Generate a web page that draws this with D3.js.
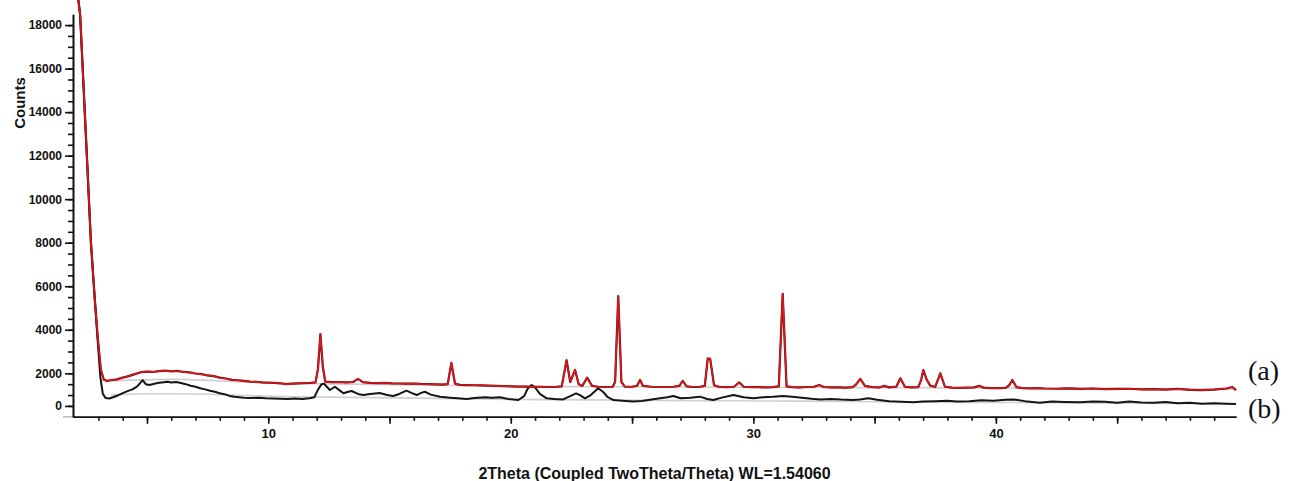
<!DOCTYPE html>
<html>
<head>
    <title>XRD pattern</title>
    <script src="https://d3js.org/d3.v7.min.js"></script>
    <style>
        body {
            margin: 0;
            background-color: #fff;
            font-family: "Liberation Sans", Arial, sans-serif;
        }
        .axis path, .axis line {
            stroke: #111;
            stroke-width: 1.6px;
        }
        .axis text {
            font-family: "Liberation Sans", Arial, sans-serif;
            font-weight: bold;
            fill: #111;
        }
        .trace {
            fill: none;
            stroke-linejoin: round;
        }
    </style>
</head>
<body>
    <div id="chart"></div>
    <script>
        // 2theta / counts pairs
        const seriesA = [
            [2.10, 19800], [2.245, 18465], [2.52, 12026], [2.69, 7990], [2.85, 5370], [2.98, 3530],
            [3.10, 2150], [3.22, 1700], [3.35, 1650], [3.5, 1680], [3.75, 1720], [4.0, 1800],
            [4.25, 1870], [4.5, 1960], [4.75, 2050], [5.0, 2080], [5.25, 2060], [5.5, 2100],
            [5.75, 2120], [6.0, 2090], [6.25, 2110], [6.5, 2060], [6.75, 2040], [7.0, 1990],
            [7.25, 1960], [7.5, 1900], [7.75, 1870], [8.0, 1800], [8.25, 1760], [8.5, 1700],
            [8.75, 1680], [9.0, 1650], [9.25, 1620], [9.5, 1610], [9.75, 1580], [10.0, 1570],
            [10.25, 1560], [10.5, 1540], [10.75, 1500], [11.0, 1520], [11.25, 1540], [11.5, 1550],
            [11.75, 1560], [11.95, 1580], [12.05, 2200], [12.15, 3800], [12.25, 2300], [12.35, 1620],
            [12.6, 1590], [12.9, 1600], [13.2, 1580], [13.5, 1600], [13.7, 1740], [13.9, 1590],
            [14.2, 1560], [14.5, 1550], [14.8, 1560], [15.1, 1540], [15.4, 1530], [15.7, 1520],
            [16.0, 1530], [16.3, 1510], [16.6, 1500], [16.9, 1490], [17.2, 1480], [17.4, 1500],
            [17.55, 2480], [17.7, 1520], [17.9, 1470], [18.2, 1460], [18.5, 1450], [18.8, 1440],
            [19.1, 1430], [19.4, 1420], [19.7, 1410], [20.0, 1400], [20.3, 1390], [20.6, 1390],
            [20.9, 1380], [21.2, 1380], [21.5, 1370], [21.8, 1370], [22.1, 1400], [22.3, 2600],
            [22.45, 1600], [22.65, 2150], [22.8, 1500], [22.95, 1420], [23.15, 1800], [23.35, 1420],
            [23.6, 1380], [23.9, 1370], [24.2, 1380], [24.3, 1600], [24.43, 5550], [24.56, 1600],
            [24.7, 1390], [25.0, 1380], [25.2, 1420], [25.33, 1690], [25.45, 1420], [25.8, 1380],
            [26.1, 1370], [26.4, 1370], [26.7, 1380], [26.95, 1420], [27.09, 1650], [27.25, 1400],
            [27.5, 1370], [27.8, 1380], [28.0, 1420], [28.12, 2680], [28.22, 2660], [28.38, 1450],
            [28.6, 1370], [28.9, 1360], [29.2, 1380], [29.42, 1580], [29.6, 1380], [29.9, 1360],
            [30.2, 1360], [30.5, 1350], [30.8, 1360], [31.05, 1400], [31.21, 5650], [31.37, 1400],
            [31.6, 1360], [31.9, 1350], [32.2, 1370], [32.5, 1380], [32.72, 1460], [32.9, 1370],
            [33.2, 1350], [33.5, 1350], [33.8, 1340], [34.1, 1360], [34.25, 1500], [34.41, 1740],
            [34.6, 1420], [34.9, 1360], [35.2, 1350], [35.39, 1420], [35.6, 1350], [35.9, 1390],
            [36.06, 1770], [36.25, 1380], [36.5, 1350], [36.8, 1360], [36.92, 1700], [37.01, 2150],
            [37.15, 1700], [37.3, 1420], [37.5, 1380], [37.71, 2000], [37.9, 1380], [38.2, 1340],
            [38.5, 1330], [38.8, 1340], [39.1, 1350], [39.32, 1420], [39.5, 1340], [39.8, 1320],
            [40.1, 1320], [40.4, 1330], [40.55, 1450], [40.68, 1690], [40.85, 1360], [41.1, 1320],
            [41.4, 1310], [41.7, 1320], [42.0, 1300], [42.5, 1290], [43.0, 1310], [43.5, 1280],
            [44.0, 1300], [44.5, 1270], [45.0, 1280], [45.5, 1290], [46.0, 1260], [46.5, 1270],
            [47.0, 1250], [47.5, 1280], [48.0, 1240], [48.5, 1230], [49.0, 1250], [49.3, 1280],
            [49.5, 1300], [49.75, 1370], [49.9, 1230]
        ];

        const seriesB = [
            [2.10, 19800], [2.245, 18465], [2.52, 12026], [2.69, 7990], [2.85, 5370], [2.98, 3300],
            [3.08, 1800], [3.18, 1050], [3.3, 860], [3.45, 840], [3.6, 900], [3.8, 980],
            [4.0, 1090], [4.2, 1180], [4.4, 1260], [4.6, 1400], [4.82, 1690], [4.95, 1500],
            [5.1, 1460], [5.3, 1520], [5.5, 1560], [5.7, 1590], [5.85, 1610], [6.0, 1580],
            [6.2, 1600], [6.4, 1550], [6.6, 1500], [6.8, 1430], [7.0, 1380], [7.2, 1310],
            [7.4, 1260], [7.6, 1200], [7.8, 1150], [8.0, 1080], [8.2, 1040], [8.4, 960],
            [8.6, 920], [8.8, 900], [9.0, 880], [9.3, 860], [9.6, 880], [9.9, 850],
            [10.2, 840], [10.5, 830], [10.8, 820], [11.1, 840], [11.4, 820], [11.7, 850],
            [11.9, 900], [12.05, 1250], [12.2, 1500], [12.3, 1520], [12.54, 1230], [12.75, 1380],
            [12.9, 1250], [13.1, 1080], [13.3, 1150], [13.44, 1185], [13.7, 1050], [13.92, 1000],
            [14.2, 1050], [14.6, 1090], [14.9, 1000], [15.15, 955], [15.4, 1050], [15.7, 1200],
            [15.9, 1100], [16.12, 1000], [16.3, 1100], [16.46, 1150], [16.7, 1020], [17.08, 925],
            [17.5, 880], [17.8, 850], [18.18, 820], [18.5, 860], [18.94, 900], [19.2, 870],
            [19.55, 900], [19.9, 820], [20.31, 770], [20.55, 950], [20.7, 1300], [20.86, 1460],
            [21.0, 1350], [21.2, 1050], [21.48, 850], [21.8, 820], [22.16, 800], [22.45, 950],
            [22.69, 1080], [22.85, 1000], [23.06, 850], [23.3, 1000], [23.6, 1310], [23.8, 1150],
            [24.0, 900], [24.23, 770], [24.6, 740], [25.05, 700], [25.4, 730], [25.8, 800],
            [26.15, 850], [26.45, 900], [26.7, 955], [27.0, 850], [27.4, 880], [27.8, 925],
            [28.1, 820], [28.35, 770], [28.7, 880], [29.18, 1000], [29.6, 900], [30.0, 850],
            [30.4, 900], [30.8, 920], [31.24, 955], [31.6, 920], [32.0, 880], [32.4, 830],
            [32.76, 800], [33.2, 820], [33.6, 790], [34.1, 770], [34.4, 800], [34.74, 850],
            [35.1, 780], [35.6, 720], [36.1, 690], [36.6, 665], [37.0, 700], [37.5, 720],
            [37.98, 740], [38.4, 700], [38.9, 720], [39.4, 760], [39.9, 740], [40.4, 780],
            [40.72, 800], [41.2, 720], [41.82, 650], [42.3, 700], [42.8, 680], [43.47, 665],
            [44.0, 700], [44.5, 690], [45.0, 650], [45.5, 700], [46.0, 660], [46.5, 640],
            [47.0, 680], [47.5, 620], [48.0, 650], [48.5, 600], [49.0, 620], [49.5, 600],
            [49.9, 590]
        ];

        // faint fitted backgrounds under each trace
        const backgroundA = [[3.5, 1650], [6, 1720], [10, 1550], [15, 1480], [20, 1400], [25, 1380],
            [30, 1360], [35, 1340], [40, 1320], [49.9, 1270]];
        const backgroundB = [[3.5, 1000], [5, 1060], [7, 1050], [9, 980], [11, 920], [13, 900],
            [16, 860], [20, 800], [24, 770], [28, 740], [32, 720], [36, 680], [40, 660],
            [45, 630], [49.9, 600]];

        const yTickValues = [500, 2000, 4000, 6000, 8000, 10000, 12000, 14000, 16000, 18000];
        const yTickLabels = ["0", "2000", "4000", "6000", "8000", "10000", "12000", "14000", "16000", "18000"];
        const seriesLabels = ["(a)", "(b)"];

        const width = 1289;
        const height = 481;
        const plot = { left: 73, right: 1236, top: 14.2, bottom: 416.8 };

        const svg = d3.select("#chart")
            .append("svg")
            .attr("width", width)
            .attr("height", height);

        const x = d3.scaleLinear().domain([1.95, 49.9]).range([plot.left, plot.right]);
        const y = d3.scaleLinear().domain([0, 18500]).range([plot.bottom, plot.top]);

        const line = d3.line()
            .x(d => x(d[0]))
            .y(d => y(d[1]));

        // backgrounds first, traces on top
        [backgroundA, backgroundB].forEach(bg => {
            svg.append("path")
                .datum(bg)
                .attr("class", "trace")
                .attr("stroke", "#cfcfcf")
                .attr("stroke-width", 1.6)
                .attr("d", line.curve(d3.curveMonotoneX));
        });
        line.curve(d3.curveLinear);

        svg.append("path")
            .datum(seriesB)
            .attr("class", "trace")
            .attr("stroke", "#151515")
            .attr("stroke-width", 2)
            .attr("d", line);

        svg.append("path")
            .datum(seriesA)
            .attr("class", "trace")
            .attr("stroke", "#6a0a0a")
            .attr("stroke-width", 2.2)
            .attr("d", line);
        svg.append("path")
            .datum(seriesA)
            .attr("class", "trace")
            .attr("stroke", "#d8181c")
            .attr("stroke-width", 1.5)
            .attr("d", line);

        // short gray stub of the baseline left of the y axis
        svg.append("line")
            .attr("x1", plot.left - 10)
            .attr("x2", plot.left)
            .attr("y1", y(0))
            .attr("y2", y(0))
            .attr("stroke", "#bbb")
            .attr("stroke-width", 1.5);

        // y axis with minor ticks every 500
        svg.append("g")
            .attr("class", "axis")
            .attr("transform", `translate(${plot.left},0)`)
            .call(d3.axisLeft(y)
                .tickValues(d3.range(500, 18001, 500))
                .tickSize(5)
                .tickSizeOuter(0)
                .tickFormat(""));
        svg.append("g")
            .attr("class", "axis")
            .attr("transform", `translate(${plot.left},0)`)
            .call(d3.axisLeft(y)
                .tickValues(yTickValues)
                .tickSize(8)
                .tickSizeOuter(0)
                .tickPadding(3)
                .tickFormat((d, i) => yTickLabels[i]))
            .call(g => g.selectAll("text").attr("font-size", 12));

        // x axis: minor every 1, long every 5, labels every 10
        svg.append("g")
            .attr("class", "axis")
            .attr("transform", `translate(0,${plot.bottom})`)
            .call(d3.axisBottom(x)
                .tickValues(d3.range(3, 50, 1))
                .tickSize(4)
                .tickSizeOuter(0)
                .tickFormat(""));
        svg.append("g")
            .attr("class", "axis")
            .attr("transform", `translate(0,${plot.bottom})`)
            .call(d3.axisBottom(x)
                .tickValues(d3.range(5, 50, 5))
                .tickSize(7)
                .tickSizeOuter(0)
                .tickPadding(5)
                .tickFormat(d => d % 10 === 0 ? d : ""))
            .call(g => g.selectAll("text").attr("font-size", 13));

        // axis titles
        svg.append("text")
            .attr("transform", "translate(25,103) rotate(-90)")
            .attr("text-anchor", "middle")
            .attr("font-size", 15)
            .attr("font-weight", "bold")
            .attr("fill", "#111")
            .text("Counts");

        svg.append("text")
            .attr("x", (plot.left + plot.right) / 2)
            .attr("y", 479)
            .attr("text-anchor", "middle")
            .attr("font-size", 16)
            .attr("font-weight", "bold")
            .attr("fill", "#111")
            .text("2Theta (Coupled TwoTheta/Theta) WL=1.54060");

        // series labels at the right
        svg.selectAll(".series-label")
            .data(seriesLabels)
            .enter()
            .append("text")
            .attr("class", "series-label")
            .attr("x", 1248)
            .attr("y", (d, i) => i === 0 ? 380 : 418)
            .attr("font-family", "'Liberation Serif', 'Times New Roman', serif")
            .attr("font-size", 28)
            .attr("fill", "#111")
            .text(d => d);
    </script>
</body>
</html>
